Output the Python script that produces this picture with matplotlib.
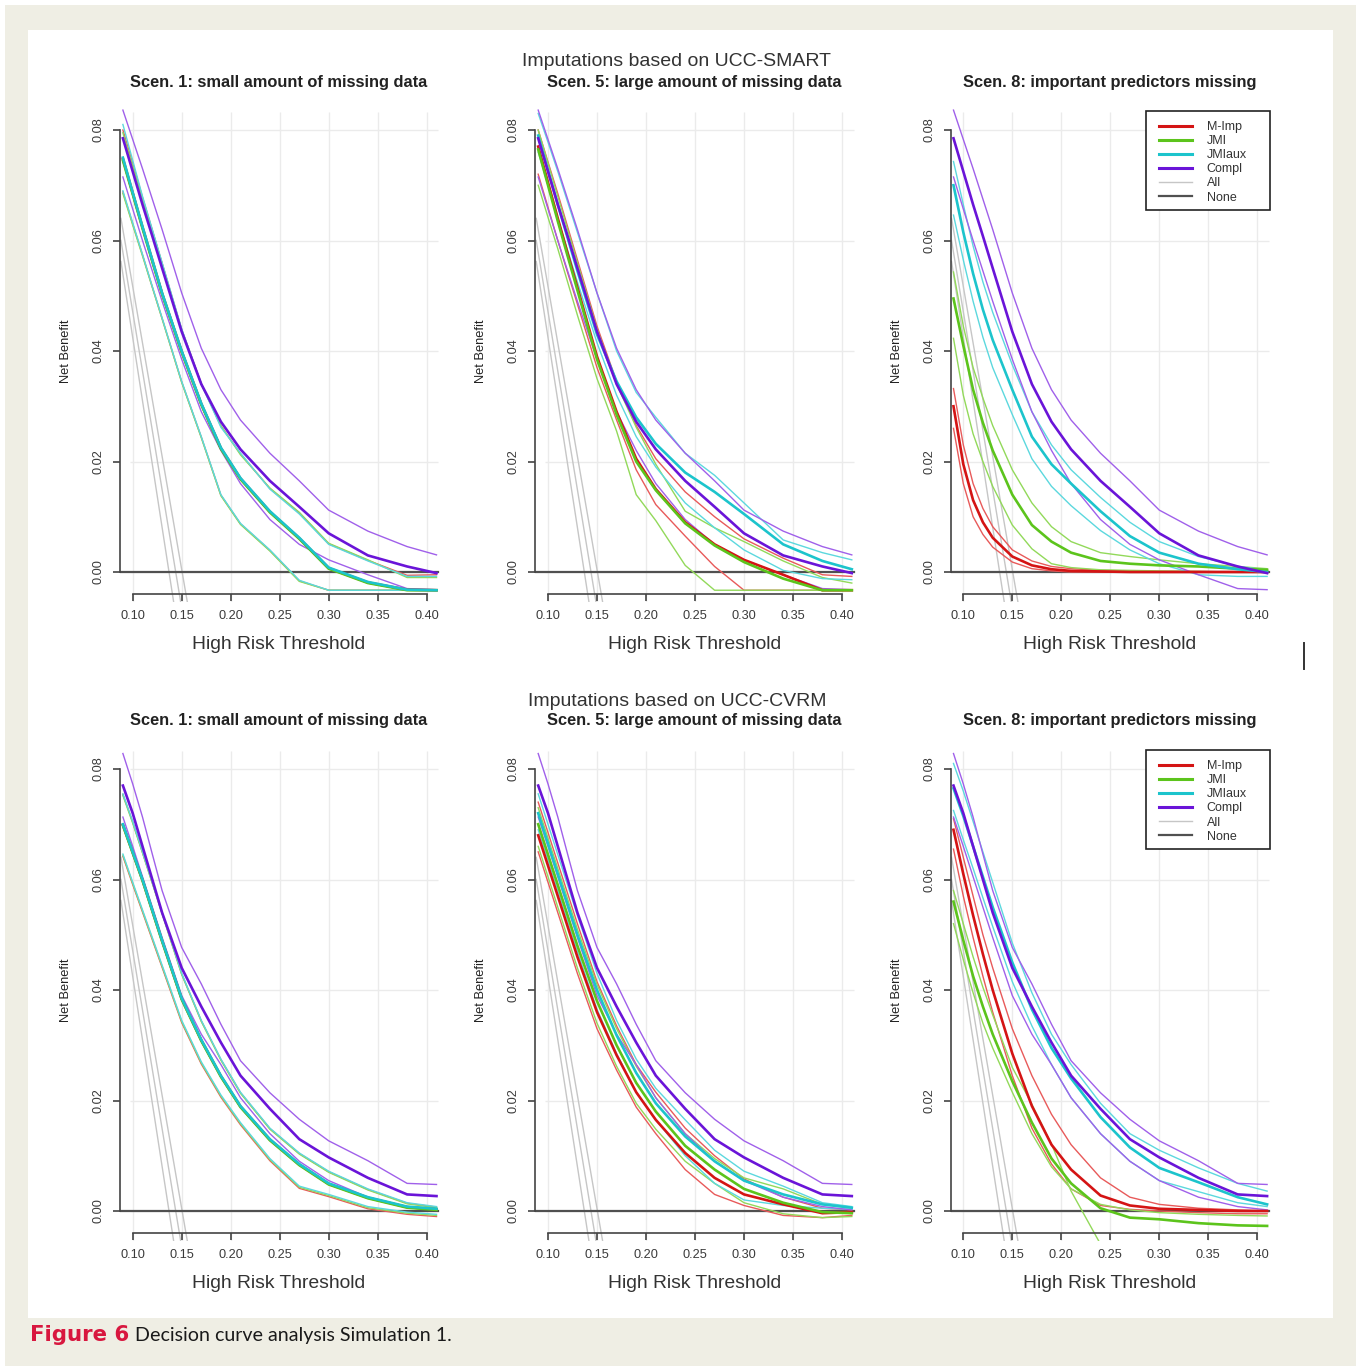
import matplotlib
matplotlib.use("Agg")
import matplotlib.pyplot as plt
from matplotlib.lines import Line2D
from matplotlib.patches import Rectangle

plt.rcParams["font.family"] = ["Liberation Sans", "DejaVu Sans"]

# --- data: net benefit curves ---
T = [0.09, 0.10, 0.11, 0.12, 0.13, 0.15, 0.17, 0.19, 0.21, 0.24, 0.27, 0.30, 0.34, 0.38, 0.41]

# "treat all" lines (three, straight) and "treat none"
ALL_T = [0.088, 0.16]
ALL_1 = [0.0562, -0.0263]
ALL_2 = [0.0600, -0.0173]
ALL_3 = [0.0640, -0.0098]
NONE_T = [0.088, 0.412]
NONE = [0.0, 0.0]

# each method: [lower, median, upper]
SMART_COMPL = [
    [0.0715, 0.0657, 0.0600, 0.0545, 0.0490, 0.0385, 0.0290, 0.0220, 0.0160, 0.0095, 0.0050, 0.0022, -0.0005, -0.0030, -0.0032],
    [0.0785, 0.0725, 0.0665, 0.0608, 0.0550, 0.0435, 0.0340, 0.0272, 0.0222, 0.0165, 0.0118, 0.0070, 0.0030, 0.0010, -0.0002],
    [0.0836, 0.0783, 0.0730, 0.0675, 0.0620, 0.0505, 0.0405, 0.0330, 0.0275, 0.0215, 0.0165, 0.0112, 0.0074, 0.0046, 0.0031],
]
SMART_S1_MIMP = [
    [0.0688, 0.0630, 0.0574, 0.0516, 0.0459, 0.0344, 0.0244, 0.0139, 0.0087, 0.0039, -0.0016, -0.0033, -0.0033, -0.0033, -0.0033],
    [0.0748, 0.0686, 0.0624, 0.0564, 0.0504, 0.0399, 0.0304, 0.0224, 0.0169, 0.0109, 0.0061, 0.0007, -0.0019, -0.0032, -0.0033],
    [0.0800, 0.0740, 0.0678, 0.0619, 0.0559, 0.0439, 0.0341, 0.0264, 0.0214, 0.0151, 0.0107, 0.0051, 0.0021, -0.0006, -0.0005],
]
SMART_S1_JMI = [
    [0.0685, 0.0628, 0.0572, 0.0515, 0.0458, 0.0343, 0.0243, 0.0138, 0.0086, 0.0038, -0.0017, -0.0033, -0.0033, -0.0033, -0.0033],
    [0.0745, 0.0684, 0.0622, 0.0562, 0.0503, 0.0398, 0.0303, 0.0223, 0.0168, 0.0108, 0.0060, 0.0006, -0.0020, -0.0033, -0.0033],
    [0.0795, 0.0735, 0.0675, 0.0617, 0.0558, 0.0438, 0.0340, 0.0265, 0.0212, 0.0152, 0.0108, 0.0052, 0.0022, -0.0010, -0.0010],
]
SMART_S1_JMIAUX = [
    [0.0690, 0.0632, 0.0575, 0.0517, 0.0460, 0.0345, 0.0245, 0.0140, 0.0088, 0.0040, -0.0015, -0.0033, -0.0033, -0.0033, -0.0033],
    [0.0750, 0.0687, 0.0625, 0.0565, 0.0505, 0.0400, 0.0305, 0.0225, 0.0170, 0.0110, 0.0062, 0.0008, -0.0018, -0.0032, -0.0033],
    [0.0810, 0.0745, 0.0680, 0.0620, 0.0560, 0.0440, 0.0340, 0.0262, 0.0215, 0.0150, 0.0105, 0.0050, 0.0020, -0.0008, -0.0008],
]
SMART_S5_MIMP = [
    [0.0720, 0.0660, 0.0600, 0.0542, 0.0485, 0.0370, 0.0275, 0.0185, 0.0122, 0.0065, 0.0010, -0.0033, -0.0033, -0.0033, -0.0033],
    [0.0770, 0.0705, 0.0640, 0.0577, 0.0515, 0.0390, 0.0290, 0.0205, 0.0150, 0.0090, 0.0050, 0.0022, -0.0005, -0.0033, -0.0033],
    [0.0800, 0.0742, 0.0685, 0.0625, 0.0565, 0.0445, 0.0345, 0.0265, 0.0205, 0.0145, 0.0100, 0.0060, 0.0025, -0.0005, -0.0008],
]
SMART_S5_JMI = [
    [0.0700, 0.0642, 0.0585, 0.0525, 0.0465, 0.0350, 0.0255, 0.0140, 0.0093, 0.0012, -0.0033, -0.0033, -0.0033, -0.0033, -0.0033],
    [0.0765, 0.0700, 0.0635, 0.0572, 0.0510, 0.0385, 0.0285, 0.0200, 0.0148, 0.0088, 0.0048, 0.0018, -0.0012, -0.0033, -0.0033],
    [0.0800, 0.0740, 0.0680, 0.0620, 0.0560, 0.0440, 0.0340, 0.0262, 0.0195, 0.0110, 0.0080, 0.0055, 0.0020, -0.0010, -0.0020],
]
SMART_S5_JMIAUX = [
    [0.0760, 0.0700, 0.0640, 0.0582, 0.0525, 0.0415, 0.0320, 0.0245, 0.0190, 0.0125, 0.0080, 0.0040, 0.0003, -0.0012, -0.0014],
    [0.0790, 0.0727, 0.0665, 0.0605, 0.0545, 0.0430, 0.0345, 0.0280, 0.0232, 0.0180, 0.0145, 0.0105, 0.0050, 0.0020, 0.0005],
    [0.0830, 0.0778, 0.0725, 0.0670, 0.0615, 0.0505, 0.0400, 0.0325, 0.0280, 0.0215, 0.0175, 0.0125, 0.0058, 0.0035, 0.0022],
]
SMART_S8_MIMP = [
    [0.0260, 0.0160, 0.0100, 0.0068, 0.0045, 0.0018, 0.0006, 0.0002, 0.0000, 0.0000, 0.0000, 0.0000, 0.0000, 0.0000, 0.0000],
    [0.0300, 0.0195, 0.0130, 0.0090, 0.0062, 0.0028, 0.0012, 0.0005, 0.0002, 0.0001, 0.0000, 0.0000, 0.0000, 0.0000, 0.0000],
    [0.0332, 0.0230, 0.0160, 0.0115, 0.0082, 0.0040, 0.0020, 0.0010, 0.0006, 0.0003, 0.0002, 0.0001, 0.0001, 0.0000, 0.0000],
]
SMART_S8_JMI = [
    [0.0423, 0.0320, 0.0250, 0.0200, 0.0155, 0.0085, 0.0042, 0.0015, 0.0008, 0.0004, 0.0003, 0.0002, 0.0001, 0.0000, 0.0000],
    [0.0495, 0.0410, 0.0330, 0.0270, 0.0220, 0.0140, 0.0085, 0.0055, 0.0035, 0.0020, 0.0015, 0.0012, 0.0010, 0.0006, 0.0004],
    [0.0543, 0.0445, 0.0370, 0.0315, 0.0265, 0.0185, 0.0125, 0.0082, 0.0055, 0.0035, 0.0028, 0.0022, 0.0015, 0.0010, 0.0006],
]
SMART_S8_JMIAUX = [
    [0.0646, 0.0565, 0.0490, 0.0425, 0.0370, 0.0285, 0.0205, 0.0155, 0.0120, 0.0075, 0.0040, 0.0015, -0.0005, -0.0008, -0.0008],
    [0.0700, 0.0615, 0.0540, 0.0475, 0.0420, 0.0330, 0.0245, 0.0195, 0.0160, 0.0110, 0.0065, 0.0035, 0.0015, 0.0005, 0.0000],
    [0.0743, 0.0665, 0.0590, 0.0525, 0.0470, 0.0375, 0.0290, 0.0230, 0.0185, 0.0135, 0.0090, 0.0055, 0.0028, 0.0010, 0.0004],
]

CVRM_COMPL = [
    [0.0713, 0.0660, 0.0605, 0.0550, 0.0495, 0.0390, 0.0320, 0.0265, 0.0205, 0.0140, 0.0090, 0.0055, 0.0025, 0.0008, 0.0002],
    [0.0770, 0.0720, 0.0660, 0.0600, 0.0540, 0.0440, 0.0370, 0.0305, 0.0245, 0.0185, 0.0130, 0.0097, 0.0060, 0.0030, 0.0027],
    [0.0828, 0.0773, 0.0713, 0.0646, 0.0580, 0.0477, 0.0411, 0.0338, 0.0272, 0.0214, 0.0166, 0.0127, 0.0091, 0.0050, 0.0048],
]
CVRM_S1_MIMP = [
    [0.0642, 0.0591, 0.0541, 0.0491, 0.0441, 0.0341, 0.0266, 0.0206, 0.0156, 0.0091, 0.0041, 0.0026, 0.0004, -0.0006, -0.0010],
    [0.0699, 0.0649, 0.0599, 0.0544, 0.0489, 0.0384, 0.0309, 0.0244, 0.0189, 0.0129, 0.0084, 0.0049, 0.0024, 0.0007, 0.0003],
    [0.0754, 0.0704, 0.0649, 0.0594, 0.0539, 0.0429, 0.0344, 0.0274, 0.0214, 0.0149, 0.0104, 0.0071, 0.0039, 0.0014, 0.0007],
]
CVRM_S1_JMI = [
    [0.0644, 0.0593, 0.0543, 0.0493, 0.0443, 0.0343, 0.0268, 0.0208, 0.0158, 0.0093, 0.0043, 0.0028, 0.0006, -0.0004, -0.0008],
    [0.0698, 0.0648, 0.0598, 0.0543, 0.0488, 0.0383, 0.0308, 0.0243, 0.0188, 0.0128, 0.0083, 0.0048, 0.0023, 0.0006, 0.0002],
    [0.0752, 0.0702, 0.0648, 0.0593, 0.0538, 0.0428, 0.0343, 0.0273, 0.0213, 0.0148, 0.0103, 0.0070, 0.0038, 0.0013, 0.0006],
]
CVRM_S1_JMIAUX = [
    [0.0646, 0.0595, 0.0545, 0.0495, 0.0445, 0.0345, 0.0270, 0.0210, 0.0160, 0.0095, 0.0045, 0.0030, 0.0008, -0.0002, -0.0006],
    [0.0700, 0.0650, 0.0600, 0.0545, 0.0490, 0.0385, 0.0310, 0.0245, 0.0190, 0.0130, 0.0085, 0.0050, 0.0025, 0.0008, 0.0004],
    [0.0755, 0.0705, 0.0650, 0.0595, 0.0540, 0.0430, 0.0345, 0.0275, 0.0215, 0.0150, 0.0105, 0.0072, 0.0040, 0.0015, 0.0008],
]
CVRM_S5_MIMP = [
    [0.0650, 0.0595, 0.0540, 0.0485, 0.0430, 0.0330, 0.0255, 0.0188, 0.0140, 0.0075, 0.0030, 0.0010, -0.0008, -0.0012, -0.0008],
    [0.0680, 0.0625, 0.0570, 0.0515, 0.0460, 0.0360, 0.0282, 0.0215, 0.0165, 0.0105, 0.0060, 0.0030, 0.0012, -0.0004, -0.0002],
    [0.0740, 0.0685, 0.0630, 0.0575, 0.0520, 0.0415, 0.0335, 0.0265, 0.0215, 0.0150, 0.0100, 0.0058, 0.0025, 0.0005, 0.0002],
]
CVRM_S5_JMI = [
    [0.0660, 0.0605, 0.0550, 0.0495, 0.0440, 0.0340, 0.0262, 0.0195, 0.0148, 0.0090, 0.0050, 0.0015, -0.0005, -0.0012, -0.0010],
    [0.0700, 0.0645, 0.0590, 0.0535, 0.0480, 0.0380, 0.0300, 0.0232, 0.0180, 0.0118, 0.0075, 0.0040, 0.0015, -0.0002, -0.0004],
    [0.0730, 0.0675, 0.0620, 0.0565, 0.0510, 0.0410, 0.0330, 0.0262, 0.0205, 0.0140, 0.0095, 0.0060, 0.0040, 0.0012, 0.0005],
]
CVRM_S5_JMIAUX = [
    [0.0690, 0.0635, 0.0580, 0.0525, 0.0470, 0.0365, 0.0285, 0.0215, 0.0165, 0.0100, 0.0050, 0.0020, 0.0010, 0.0005, 0.0003],
    [0.0720, 0.0665, 0.0610, 0.0555, 0.0500, 0.0400, 0.0318, 0.0250, 0.0195, 0.0135, 0.0090, 0.0055, 0.0030, 0.0012, 0.0006],
    [0.0755, 0.0700, 0.0645, 0.0590, 0.0535, 0.0430, 0.0345, 0.0275, 0.0222, 0.0165, 0.0110, 0.0072, 0.0045, 0.0015, 0.0008],
]
CVRM_S8_MIMP = [
    [0.0655, 0.0570, 0.0495, 0.0425, 0.0360, 0.0245, 0.0150, 0.0085, 0.0040, 0.0010, 0.0003, 0.0000, -0.0003, -0.0005, -0.0005],
    [0.0690, 0.0610, 0.0535, 0.0465, 0.0400, 0.0285, 0.0190, 0.0120, 0.0075, 0.0028, 0.0010, 0.0004, 0.0002, 0.0000, 0.0000],
    [0.0710, 0.0640, 0.0570, 0.0500, 0.0440, 0.0330, 0.0245, 0.0175, 0.0120, 0.0060, 0.0025, 0.0012, 0.0005, 0.0002, 0.0000],
]
CVRM_S8_JMI = [
    [0.0580, 0.0520, 0.0460, 0.0405, 0.0355, 0.0260, 0.0193, 0.0121, 0.0036, -0.0060, -0.0060, -0.0060, -0.0060, -0.0060, -0.0060],
    [0.0560, 0.0490, 0.0425, 0.0370, 0.0320, 0.0235, 0.0160, 0.0095, 0.0050, 0.0005, -0.0012, -0.0015, -0.0022, -0.0026, -0.0027],
    [0.0520, 0.0455, 0.0395, 0.0340, 0.0295, 0.0215, 0.0140, 0.0080, 0.0040, 0.0012, 0.0002, -0.0003, -0.0006, -0.0008, -0.0009],
]
CVRM_S8_JMIAUX = [
    [0.0725, 0.0672, 0.0620, 0.0567, 0.0515, 0.0415, 0.0335, 0.0265, 0.0205, 0.0140, 0.0090, 0.0055, 0.0035, 0.0015, 0.0008],
    [0.0765, 0.0715, 0.0660, 0.0605, 0.0550, 0.0450, 0.0365, 0.0295, 0.0240, 0.0170, 0.0115, 0.0078, 0.0052, 0.0025, 0.0012],
    [0.0810, 0.0760, 0.0705, 0.0650, 0.0595, 0.0485, 0.0395, 0.0320, 0.0265, 0.0195, 0.0140, 0.0110, 0.0078, 0.0050, 0.0036],
]

X_TICKS = [0.10, 0.15, 0.20, 0.25, 0.30, 0.35, 0.40]
Y_TICKS = [0.00, 0.02, 0.04, 0.06, 0.08]
LEGEND_LABELS = ["M-Imp", "JMI", "JMIaux", "Compl", "All", "None"]
ROW_TITLES = ["Imputations based on UCC-SMART", "Imputations based on UCC-CVRM"]
SCEN_TITLES = ["Scen. 1: small amount of missing data",
               "Scen. 5: large amount of missing data",
               "Scen. 8: important predictors missing"]

# --- styles ---
THICK = {"M-Imp": "#d41414", "JMI": "#5cc41c", "JMIaux": "#1cc4cc", "Compl": "#6a14d8"}
THIN = {"M-Imp": "#e85a5a", "JMI": "#92d95a", "JMIaux": "#5cd8de", "Compl": "#a060ea"}
ALL_COL = "#c6c6c6"
NONE_COL = "#505050"
TXT = "#333333"

W, H = 1359, 1366
XMIN, XMAX = 0.085, 0.415
YMIN, YMAX = -0.0055, 0.0845
PX_X = 980.0    # pixels per unit threshold
PX_Y = 5525.0   # pixels per unit net benefit

fig = plt.figure(figsize=(W / 100, H / 100), dpi=100)
fig.patch.set_facecolor("white")


def fx(px):
    return px / W


def fy(py):
    return 1 - py / H


fig.patches.append(Rectangle((fx(5), fy(1366)), fx(1351), 1361 / H, transform=fig.transFigure,
                             facecolor="#efeee4", edgecolor="none", zorder=-2))
fig.patches.append(Rectangle((fx(28), fy(1318)), fx(1305), 1288 / H, transform=fig.transFigure,
                             facecolor="white", edgecolor="none", zorder=-1))

rows = [
    (SMART_COMPL, [(SMART_S1_MIMP, SMART_S1_JMI, SMART_S1_JMIAUX),
                   (SMART_S5_MIMP, SMART_S5_JMI, SMART_S5_JMIAUX),
                   (SMART_S8_MIMP, SMART_S8_JMI, SMART_S8_JMIAUX)]),
    (CVRM_COMPL, [(CVRM_S1_MIMP, CVRM_S1_JMI, CVRM_S1_JMIAUX),
                  (CVRM_S5_MIMP, CVRM_S5_JMI, CVRM_S5_JMIAUX),
                  (CVRM_S8_MIMP, CVRM_S8_JMI, CVRM_S8_JMIAUX)]),
]

for r, (compl, scen_list) in enumerate(rows):
    for c, (mimp, jmi, jmiaux) in enumerate(scen_list):
        x0 = 132.7 + 415.3 * c      # pixel of threshold 0.10
        y0 = 572 + 639 * r          # pixel of net benefit 0
        left = x0 + (XMIN - 0.10) * PX_X
        right = x0 + (XMAX - 0.10) * PX_X
        top = y0 - YMAX * PX_Y
        bot = y0 - YMIN * PX_Y
        ax = fig.add_axes([fx(left), fy(bot), (right - left) / W, (bot - top) / H])
        ax.set_xlim(XMIN, XMAX)
        ax.set_ylim(YMIN, YMAX)
        ax.patch.set_alpha(0)

        # light grid
        ax.vlines(X_TICKS, YMIN, 0.0833, color="#ebebeb", lw=1.0, zorder=0)
        ax.hlines(Y_TICKS, 0.097, 0.412, color="#ebebeb", lw=1.0, zorder=0)

        for yv in (ALL_1, ALL_2, ALL_3):
            ax.plot(ALL_T, yv, color=ALL_COL, lw=1.0, zorder=1)
        ax.plot(NONE_T, NONE, color=NONE_COL, lw=1.6, zorder=1)

        for name, curves in (("M-Imp", mimp), ("JMI", jmi), ("JMIaux", jmiaux), ("Compl", compl)):
            lo, med, hi = curves
            ax.plot(T, lo, color=THIN[name], lw=1.0, zorder=2)
            ax.plot(T, hi, color=THIN[name], lw=1.0, zorder=2)
            ax.plot(T, med, color=THICK[name], lw=1.9, zorder=3)

        # R-style detached axes
        for s in ("top", "right"):
            ax.spines[s].set_visible(False)
        ax.spines["left"].set_position(("data", 0.087))
        ax.spines["left"].set_bounds(0.0, 0.08)
        ax.spines["bottom"].set_position(("data", -0.0039))
        ax.spines["bottom"].set_bounds(0.10, 0.40)
        for s in ("left", "bottom"):
            ax.spines[s].set_color("#444444")
            ax.spines[s].set_linewidth(1.2)
        ax.set_xticks(X_TICKS)
        ax.set_xticklabels([f"{v:.2f}" for v in X_TICKS])
        ax.set_yticks(Y_TICKS)
        ax.set_yticklabels([f"{v:.2f}" for v in Y_TICKS], rotation=90, va="center")
        ax.tick_params(axis="x", direction="out", length=5, width=1.2, color="#444444",
                       labelsize=9.2, labelcolor="#3a3a3a", pad=7)
        ax.tick_params(axis="y", direction="out", length=5, width=1.2, color="#444444",
                       labelsize=9.2, labelcolor="#3a3a3a", pad=6)

        cx = 279 + 415.3 * c
        fig.text(fx(cx), fy(82 + 639 * r), SCEN_TITLES[c], ha="center", va="center",
                 fontsize=11.8, fontweight="bold", color="#222222")
        fig.text(fx(cx), fy(644 + 639 * r), "High Risk Threshold", ha="center", va="center",
                 fontsize=13.9, color=TXT)
        fig.text(fx(66 + 415.3 * c), fy(y0 - 0.04 * PX_Y), "Net Benefit", rotation=90,
                 ha="center", va="center", fontsize=9.3, color="#222222")

        if c == 2:
            # white framed box behind the legend entries
            ax.add_patch(Rectangle((fx(1146), fy(210 + 639 * r)), fx(124), 99 / H,
                                   transform=fig.transFigure, facecolor="white",
                                   edgecolor="#222222", lw=1.2, zorder=4.5, clip_on=False))
            handles = [Line2D([], [], color=THICK[k], lw=2.2) for k in ("M-Imp", "JMI", "JMIaux", "Compl")]
            handles.append(Line2D([], [], color=ALL_COL, lw=1.0))
            handles.append(Line2D([], [], color=NONE_COL, lw=1.6))
            leg = ax.legend(handles, LEGEND_LABELS, loc="upper left",
                            bbox_to_anchor=(fx(1159), fy(121 + 639 * r)), bbox_transform=fig.transFigure,
                            borderaxespad=0, borderpad=0, fontsize=9.0, handlelength=2.6,
                            handletextpad=1.2, labelspacing=0.17, frameon=False)
            leg.set_zorder(6)
            for t in leg.get_texts():
                t.set_color("#333333")

    fig.text(fx(677), fy(62 + 639 * r), ROW_TITLES[r], ha="center", va="center",
             fontsize=14, color=TXT)

# stray mark at right edge of the scan
fig.add_artist(Line2D([fx(1304), fx(1304)], [fy(643), fy(669)], color="#333333", lw=1.4,
                      transform=fig.transFigure))

fig.text(fx(30), fy(1335), "Figure 6", ha="left", va="center", fontsize=15.3,
         fontweight="bold", color="#d8173f", family=["DejaVu Sans"])
fig.text(fx(135), fy(1335), "Decision curve analysis Simulation 1.", ha="left", va="center",
         fontsize=14.1, color="#1a1a1a", family=["Lato", "DejaVu Sans"])

fig.savefig("out.png", dpi=100)
